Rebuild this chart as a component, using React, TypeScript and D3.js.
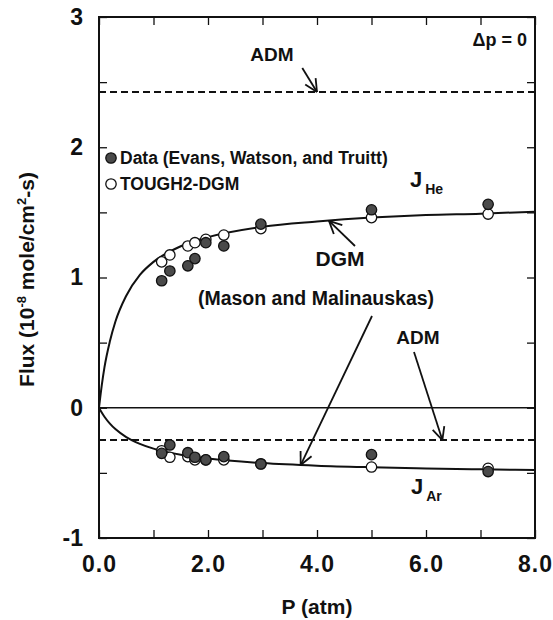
import { useEffect, useRef } from "react";
import * as d3 from "d3";

// pressure (atm) where the measurements were taken
const dataP = [1.15, 1.3, 1.63, 1.76, 1.96, 2.29, 2.97, 5.0, 7.14];
const heMeasured = [0.975, 1.05, 1.09, 1.145, 1.267, 1.242, 1.41, 1.52, 1.562];
const heTough2 = [1.12, 1.173, 1.242, 1.267, 1.293, 1.326, 1.375, 1.46, 1.487];
const arMeasured = [-0.35, -0.286, -0.345, -0.38, -0.4, -0.375, -0.432, -0.36, -0.49];
const arTough2 = [-0.33, -0.38, -0.375, -0.4, -0.4, -0.4, -0.43, -0.455, -0.465];

// DGM model curves (Mason and Malinauskas)
const curveP = [0, 0.05, 0.1, 0.2, 0.3, 0.5, 0.75, 1, 1.5, 2, 3, 4, 5, 6, 7, 8];
const heDGM = [0, 0.17, 0.31, 0.51, 0.66, 0.86, 1.02, 1.12, 1.24, 1.31, 1.39, 1.43, 1.46, 1.48, 1.49, 1.505];
const arDGM = [0, -0.037, -0.069, -0.122, -0.164, -0.225, -0.277, -0.314, -0.361, -0.39, -0.425, -0.445, -0.457, -0.466, -0.473, -0.478];

// ADM levels
const admHe = 2.424;
const admAr = -0.248;

const xTicks = [0, 1, 2, 3, 4, 5, 6, 7, 8];
const yTicks = [-1, -0.5, 0, 0.5, 1, 1.5, 2, 2.5, 3];

const FONT = "'Liberation Sans', Arial, sans-serif";

export default function App() {
  const svgRef = useRef<SVGSVGElement>(null);

  useEffect(() => {
    document.body.style.margin = "0";
    const svg = d3.select(svgRef.current);
    svg.selectAll("*").remove();

    const left = 99, right = 535, top = 17, bottom = 538;
    const x = d3.scaleLinear().domain([0, 8]).range([left, right]);
    const y = d3.scaleLinear().domain([-1, 3]).range([bottom, top]);

    const g = svg.append("g").attr("font-family", FONT).attr("font-weight", "bold");

    // axes with inward ticks
    const styleAxis = (sel: any) => {
      sel.select(".domain").remove();
      sel.selectAll("line").attr("stroke", "#111").attr("stroke-width", 1.3);
      sel.selectAll("text").attr("fill", "#111").attr("font-family", FONT).attr("font-weight", "bold");
    };

    g.append("g")
      .attr("transform", `translate(0,${bottom})`)
      .call(
        d3.axisBottom(x).tickValues(xTicks).tickSizeInner(-8).tickSizeOuter(0).tickPadding(18)
          .tickFormat((d: any) => (d % 2 === 0 ? d3.format(".1f")(d) : ""))
      )
      .call(styleAxis)
      .selectAll("text").attr("font-size", 23).attr("letter-spacing", 1);

    g.append("g")
      .attr("transform", `translate(0,${top})`)
      .call(d3.axisTop(x).tickValues(xTicks).tickSizeInner(-8).tickSizeOuter(0).tickFormat(() => ""))
      .call(styleAxis);

    g.append("g")
      .attr("transform", `translate(${left},0)`)
      .call(
        d3.axisLeft(y).tickValues(yTicks).tickSizeInner(-8).tickSizeOuter(0).tickPadding(16)
          .tickFormat((d: any) => (Number.isInteger(d) ? String(d) : ""))
      )
      .call(styleAxis)
      .selectAll("text").attr("font-size", 23);

    g.append("g")
      .attr("transform", `translate(${right},0)`)
      .call(d3.axisRight(y).tickValues(yTicks).tickSizeInner(-8).tickSizeOuter(0).tickFormat(() => ""))
      .call(styleAxis);

    g.append("rect")
      .attr("x", left).attr("y", top)
      .attr("width", right - left).attr("height", bottom - top)
      .attr("fill", "none").attr("stroke", "#111").attr("stroke-width", 2);

    // zero line
    g.append("line")
      .attr("x1", x(0)).attr("x2", x(8)).attr("y1", y(0)).attr("y2", y(0))
      .attr("stroke", "#111").attr("stroke-width", 1.6);

    // ADM dashed lines
    [admHe, admAr].forEach((v) => {
      g.append("line")
        .attr("x1", x(0)).attr("x2", x(8)).attr("y1", y(v)).attr("y2", y(v))
        .attr("stroke", "#111").attr("stroke-width", 2).attr("stroke-dasharray", "7,4");
    });

    // DGM curves
    const line = d3.line<number>()
      .x((_, i) => x(curveP[i]))
      .curve(d3.curveMonotoneX);
    g.append("path").datum(heDGM).attr("d", line.y((d) => y(d)) as any)
      .attr("fill", "none").attr("stroke", "#111").attr("stroke-width", 2);
    g.append("path").datum(arDGM).attr("d", line.y((d) => y(d)) as any)
      .attr("fill", "none").attr("stroke", "#111").attr("stroke-width", 2);

    // points: open first, filled on top
    const openPts = (vals: number[]) =>
      g.append("g").selectAll("circle").data(vals).enter().append("circle")
        .attr("cx", (_, i) => x(dataP[i])).attr("cy", (d) => y(d)).attr("r", 5.2)
        .attr("fill", "white").attr("stroke", "#111").attr("stroke-width", 1.3);
    const filledPts = (vals: number[]) =>
      g.append("g").selectAll("circle").data(vals).enter().append("circle")
        .attr("cx", (_, i) => x(dataP[i])).attr("cy", (d) => y(d)).attr("r", 5.2)
        .attr("fill", "#4a4a4a").attr("stroke", "#111").attr("stroke-width", 1.3);
    openPts(heTough2);
    openPts(arTough2);
    filledPts(heMeasured);
    filledPts(arMeasured);

    // arrow helper
    const arrow = (x1: number, y1: number, x2: number, y2: number) => {
      const ang = Math.atan2(y2 - y1, x2 - x1);
      const len = 14, spread = 0.45;
      g.append("line").attr("x1", x1).attr("y1", y1).attr("x2", x2).attr("y2", y2)
        .attr("stroke", "#111").attr("stroke-width", 1.8);
      [ang + Math.PI - spread, ang + Math.PI + spread].forEach((a) => {
        g.append("line").attr("x1", x2).attr("y1", y2)
          .attr("x2", x2 + len * Math.cos(a)).attr("y2", y2 + len * Math.sin(a))
          .attr("stroke", "#111").attr("stroke-width", 1.8);
      });
    };

    const label = (tx: number, ty: number, s: string, size: number, anchor = "middle") =>
      g.append("text").attr("x", tx).attr("y", ty).attr("font-size", size)
        .attr("text-anchor", anchor).attr("fill", "#111").text(s);

    // top ADM
    label(272, 61, "ADM", 19);
    arrow(x(3.73), 68, x(4.0), y(admHe));

    label(527, 46, "\u0394p = 0", 18, "end");

    // legend
    g.append("circle").attr("cx", 111).attr("cy", 158).attr("r", 5.2)
      .attr("fill", "#4a4a4a").attr("stroke", "#111").attr("stroke-width", 1.3);
    label(120, 164, "Data (Evans, Watson, and Truitt)", 17.5, "start");
    g.append("circle").attr("cx", 111).attr("cy", 184).attr("r", 5.2)
      .attr("fill", "white").attr("stroke", "#111").attr("stroke-width", 1.3);
    label(120, 190, "TOUGH2-DGM", 17.5, "start");

    // J labels
    const jLabel = (tx: number, ty: number, sub: string) => {
      const t = g.append("text").attr("x", tx).attr("y", ty).attr("fill", "#111");
      t.append("tspan").attr("font-size", 22).text("J");
      t.append("tspan").attr("font-size", 14).attr("dx", 3).attr("dy", 7).text(sub);
    };
    jLabel(410, 187, "He");
    jLabel(411, 494, "Ar");

    // DGM annotation
    label(340, 266, "DGM", 21);
    label(316, 305, "(Mason and Malinauskas)", 19.5);
    arrow(355, 246, x(4.22), y(1.435));
    arrow(372, 316, x(3.7), y(-0.44));

    // lower ADM
    label(418, 344, "ADM", 19);
    arrow(414, 352, x(6.3), y(admAr));

    // axis titles
    g.append("text")
      .attr("transform", `translate(34,${(top + bottom) / 2 + 2}) rotate(-90)`)
      .attr("text-anchor", "middle").attr("font-size", 21).attr("fill", "#111")
      .call((t: any) => {
        t.append("tspan").text("Flux (10");
        t.append("tspan").attr("font-size", 13).attr("dy", -8).text("-8");
        t.append("tspan").attr("dy", 8).text(" mole/cm");
        t.append("tspan").attr("font-size", 13).attr("dy", -8).text("2");
        t.append("tspan").attr("dy", 8).text("-s)");
      });
    label(317, 614, "P (atm)", 21);
  }, []);

  return <svg ref={svgRef} width={553} height={620} style={{ display: "block", background: "white" }} />;
}
